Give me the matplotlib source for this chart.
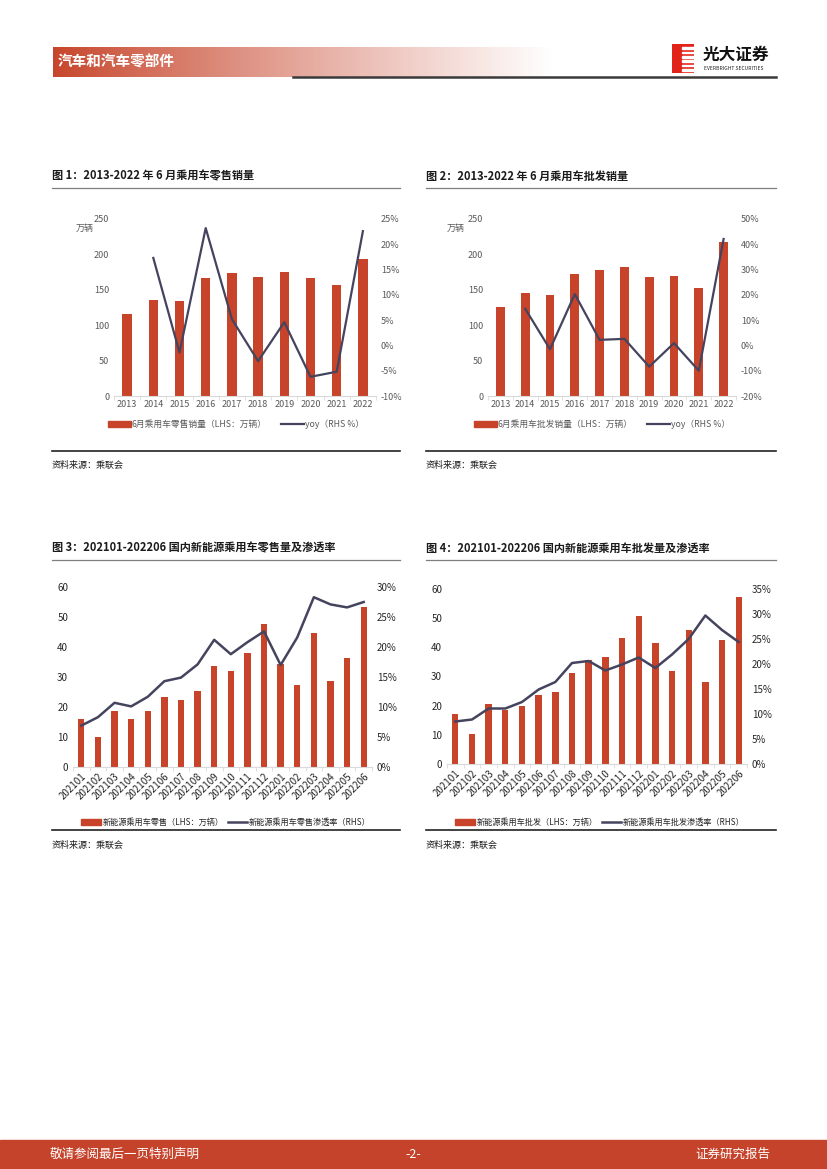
import numpy as np
import matplotlib
matplotlib.use("Agg")
import matplotlib.pyplot as plt
from matplotlib.patches import Rectangle
from matplotlib.lines import Line2D
from matplotlib.ticker import FuncFormatter, FixedLocator

plt.rcParams['font.family'] = ['Noto Sans CJK SC', 'DejaVu Sans']
plt.rcParams['axes.unicode_minus'] = False

W, H = 827, 1169
RED = '#c7432a'
LINE = '#45445f'
GREY = '#595959'

# data
years = ['2013', '2014', '2015', '2016', '2017', '2018', '2019', '2020', '2021', '2022']
retail_jun = [116, 136, 134, 166, 174, 168, 175.5, 166, 157, 194]
retail_yoy = [np.nan, 17.3, -1.4, 23.2, 5.2, -3.1, 4.6, -6.2, -5.2, 22.6]
whole_jun = [126, 146, 143, 172.5, 178, 182.5, 168.5, 170, 153, 218]
whole_yoy = [np.nan, 14.5, -1.5, 20.3, 2.2, 2.6, -8.4, 0.9, -10.0, 42.1]

months = ['202101', '202102', '202103', '202104', '202105', '202106', '202107', '202108', '202109',
          '202110', '202111', '202112', '202201', '202202', '202203', '202204', '202205', '202206']
nev_retail = [16.0, 9.9, 18.8, 16.0, 18.8, 23.3, 22.4, 25.2, 33.6, 31.9, 38.0, 47.6, 34.5, 27.4, 44.8, 28.6, 36.2, 53.4]
nev_retail_pen = [6.9, 8.3, 10.7, 10.1, 11.7, 14.3, 14.9, 17.1, 21.2, 18.8, 20.8, 22.6, 17.0, 21.6, 28.3, 27.1, 26.6, 27.5]
nev_whole = [17.3, 10.4, 20.6, 18.6, 19.9, 23.7, 24.8, 31.1, 35.8, 36.7, 43.2, 50.7, 41.5, 32.0, 45.9, 28.2, 42.4, 57.3]
nev_whole_pen = [8.5, 8.9, 11.1, 11.1, 12.4, 14.9, 16.4, 20.2, 20.6, 18.7, 19.9, 21.3, 19.2, 21.9, 25.0, 29.7, 26.8, 24.4]


def box(x, y, w, h):
    return [x / W, 1 - (y + h) / H, w / W, h / H]


def fx(x):
    return x / W


def fy(y):
    return 1 - y / H


fig = plt.figure(figsize=(8.27, 11.69), dpi=100)

# header gradient band
hax = fig.add_axes(box(53, 47, 500, 30))
grad = np.linspace(0, 1, 256)
c0 = np.array([0.78, 0.27, 0.17])
img = np.array([c0 + (1 - c0) * g ** 0.9 for g in grad])[None, :, :]
hax.imshow(img, aspect='auto', extent=[0, 1, 0, 1])
hax.axis('off')
fig.text(fx(58), fy(62), '汽车和汽车零部件', color='white', fontsize=10.5, fontweight='bold', va='center')
fig.add_artist(Line2D([fx(293), fx(776)], [fy(77), fy(77)], color='#3a3a3a', lw=1.8))

# logo
lax = fig.add_axes(box(672, 44, 22, 29))
lax.set_xlim(0, 1)
lax.set_ylim(0, 1)
lax.axis('off')
lax.add_patch(Rectangle((0, 0), 1, 1, color='#e2231a'))
for k in range(6):
    lax.add_patch(Rectangle((0.45, 0.08 + k * 0.15), 0.55, 0.06, color='white'))
fig.text(fx(703), fy(55), '光大证券', fontsize=12, fontweight='bold', va='center', color='#111111')
fig.text(fx(704), fy(68), 'EVERBRIGHT SECURITIES', fontsize=3.6, va='center', color='#222222')

# footer
fig.add_artist(Rectangle((0, 0), 1, (H - 1140) / H, transform=fig.transFigure, color='#c4432a'))
fig.text(fx(50), fy(1154), '敬请参阅最后一页特别声明', color='white', fontsize=9, va='center')
fig.text(fx(413), fy(1154), '-2-', color='white', fontsize=9, va='center', ha='center')
fig.text(fx(770), fy(1154), '证券研究报告', color='white', fontsize=9, va='center', ha='right')


def frame(x0, x1, ytitle, yrule, ysrc, title):
    fig.text(fx(x0), fy(ytitle), title, fontsize=8, fontweight='bold', va='center', color='#1a1a1a')
    fig.add_artist(Line2D([fx(x0), fx(x1)], [fy(ytitle + 12), fy(ytitle + 12)], color='#7f7f7f', lw=0.9))
    fig.add_artist(Line2D([fx(x0), fx(x1)], [fy(yrule), fy(yrule)], color='#222222', lw=1.2))
    fig.text(fx(x0), fy(ysrc), '资料来源：乘联会', fontsize=6.5, va='center', color='#1a1a1a')


def style(ax, ax2, n, size=6.5):
    for s in ['top', 'left', 'right']:
        ax.spines[s].set_visible(False)
        ax2.spines[s].set_visible(False)
    ax2.spines['bottom'].set_visible(False)
    ax.spines['bottom'].set_color('#d9d9d9')
    ax.tick_params(axis='y', length=0, labelsize=size, labelcolor=GREY)
    ax2.tick_params(axis='y', length=0, labelsize=size, labelcolor=GREY)
    ax.tick_params(axis='x', length=0, labelsize=size, labelcolor=GREY, pad=3)
    ax.xaxis.set_minor_locator(FixedLocator(np.arange(n + 1) - 0.5))
    ax.tick_params(axis='x', which='minor', length=3, color='#d9d9d9')
    ax.set_xlim(-0.5, n - 0.5)


pct = FuncFormatter(lambda v, p: '{:.0f}%'.format(v))

# chart 1
frame(52, 400, 176, 451, 465, '图 1：2013-2022 年 6 月乘用车零售销量')
ax = fig.add_axes(box(114, 219, 262, 177))
ax2 = ax.twinx()
x = np.arange(len(years))
ax.bar(x, retail_jun, width=0.36, color=RED)
ax2.plot(x, retail_yoy, color=LINE, lw=1.6)
ax.set_ylim(0, 250)
ax.set_yticks(range(0, 251, 50))
ax2.set_ylim(-10, 25)
ax2.set_yticks(range(-10, 26, 5))
ax2.yaxis.set_major_formatter(pct)
ax.set_xticks(x)
ax.set_xticklabels(years)
style(ax, ax2, len(years))
fig.text(fx(76), fy(228), '万辆', fontsize=6.5, color=GREY, va='center')
h1 = Rectangle((0, 0), 1, 1, color=RED)
h2 = Line2D([], [], color=LINE, lw=1.6)
fig.legend([h1, h2], ['6月乘用车零售销量（LHS：万辆）', 'yoy（RHS %）'], loc='center',
           bbox_to_anchor=(fx(236), fy(424)), ncol=2, frameon=False, fontsize=6.3,
           handlelength=2.6, handleheight=0.7, columnspacing=1.6, handletextpad=0.1,
           labelcolor=GREY)

# chart 2
frame(426, 776, 176, 451, 465, '图 2：2013-2022 年 6 月乘用车批发销量')
ax = fig.add_axes(box(488, 219, 248, 177))
ax2 = ax.twinx()
ax.bar(x, whole_jun, width=0.36, color=RED)
ax2.plot(x, whole_yoy, color=LINE, lw=1.6)
ax.set_ylim(0, 250)
ax.set_yticks(range(0, 251, 50))
ax2.set_ylim(-20, 50)
ax2.set_yticks(range(-20, 51, 10))
ax2.yaxis.set_major_formatter(pct)
ax.set_xticks(x)
ax.set_xticklabels(years)
style(ax, ax2, len(years))
fig.text(fx(447), fy(228), '万辆', fontsize=6.5, color=GREY, va='center')
fig.legend([h1, h2], ['6月乘用车批发销量（LHS：万辆）', 'yoy（RHS %）'], loc='center',
           bbox_to_anchor=(fx(602), fy(424)), ncol=2, frameon=False, fontsize=6.3,
           handlelength=2.6, handleheight=0.7, columnspacing=1.6, handletextpad=0.1,
           labelcolor=GREY)

# chart 3
frame(52, 400, 548, 830, 845, '图 3：202101-202206 国内新能源乘用车零售量及渗透率')
ax = fig.add_axes(box(73, 587, 299, 180))
ax2 = ax.twinx()
xm = np.arange(len(months))
ax.bar(xm, nev_retail, width=0.38, color=RED)
ax2.plot(xm, nev_retail_pen, color=LINE, lw=1.8)
ax.set_ylim(0, 60)
ax.set_yticks(range(0, 61, 10))
ax2.set_ylim(0, 30)
ax2.set_yticks(range(0, 31, 5))
ax2.yaxis.set_major_formatter(pct)
ax.set_xticks(xm)
ax.set_xticklabels(months, rotation=45, ha='right', rotation_mode='anchor')
style(ax, ax2, len(months), 7)
ax.tick_params(axis='both', labelcolor='#262626')
ax2.tick_params(axis='y', labelcolor='#262626')
fig.legend([h1, Line2D([], [], color=LINE, lw=1.8)],
           ['新能源乘用车零售（LHS：万辆）', '新能源乘用车零售渗透率（RHS）'], loc='center',
           bbox_to_anchor=(fx(226), fy(822)), ncol=2, frameon=False, fontsize=5.9,
           handlelength=2.4, handleheight=0.7, columnspacing=0.5, handletextpad=0.2,
           labelcolor='#262626')

# chart 4
frame(426, 776, 548, 830, 845, '图 4：202101-202206 国内新能源乘用车批发量及渗透率')
ax = fig.add_axes(box(447, 589, 300, 175))
ax2 = ax.twinx()
ax.bar(xm, nev_whole, width=0.38, color=RED)
ax2.plot(xm, nev_whole_pen, color=LINE, lw=1.8)
ax.set_ylim(0, 60)
ax.set_yticks(range(0, 61, 10))
ax2.set_ylim(0, 35)
ax2.set_yticks(range(0, 36, 5))
ax2.yaxis.set_major_formatter(pct)
ax.set_xticks(xm)
ax.set_xticklabels(months, rotation=45, ha='right', rotation_mode='anchor')
style(ax, ax2, len(months), 7)
ax.tick_params(axis='both', labelcolor='#262626')
ax2.tick_params(axis='y', labelcolor='#262626')
fig.legend([h1, Line2D([], [], color=LINE, lw=1.8)],
           ['新能源乘用车批发（LHS：万辆）', '新能源乘用车批发渗透率（RHS）'], loc='center',
           bbox_to_anchor=(fx(600), fy(822)), ncol=2, frameon=False, fontsize=5.9,
           handlelength=2.4, handleheight=0.7, columnspacing=0.5, handletextpad=0.2,
           labelcolor='#262626')

fig.savefig('out.png', dpi=100)
